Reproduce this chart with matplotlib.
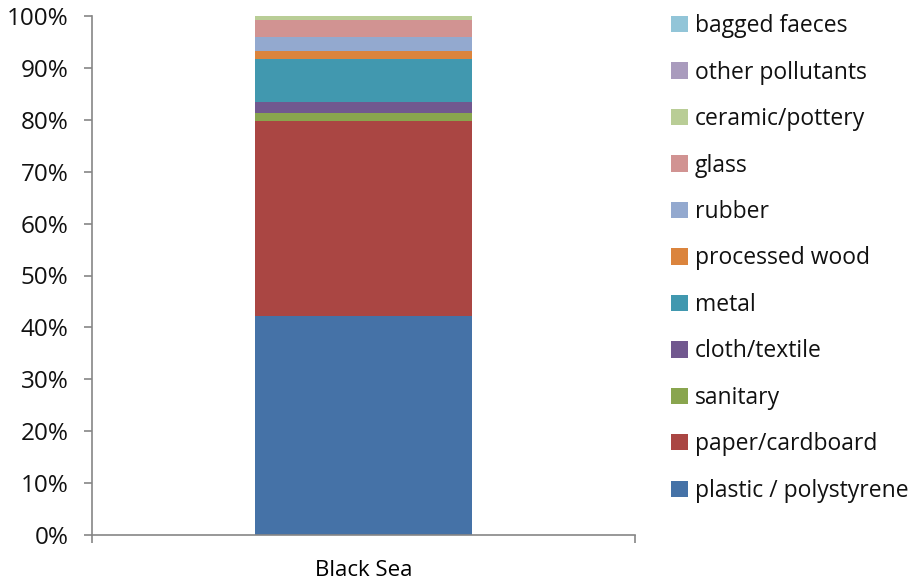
import matplotlib
matplotlib.use("Agg")
import matplotlib.pyplot as plt
from matplotlib.patches import Patch
from matplotlib.ticker import FuncFormatter

plt.rcParams['font.family'] = ['Open Sans', 'DejaVu Sans']

categories = ["Black Sea"]
series_names = ["plastic / polystyrene", "paper/cardboard", "sanitary", "cloth/textile",
                "metal", "processed wood", "rubber", "glass", "ceramic/pottery",
                "other pollutants", "bagged faeces"]
series_values = [42.2, 37.6, 1.6, 2.0, 8.3, 1.6, 2.7, 3.2, 0.8, 0.0, 0.0]
series_colors = ["#4572A7", "#AA4643", "#89A54E", "#71588F", "#4198AF", "#DB843D",
                 "#93A9CF", "#D19392", "#B9CD96", "#A99BBD", "#92C5D8"]
y_ticks = [0, 10, 20, 30, 40, 50, 60, 70, 80, 90, 100]

fig = plt.figure(figsize=(9.16, 5.83), dpi=100)
ax = fig.add_axes([92 / 916, 1 - 535 / 583, (635 - 92) / 916, (535 - 16) / 583])

bottom = 0.0
for name, val, col in zip(series_names, series_values, series_colors):
    ax.bar(0, val, width=0.4, bottom=bottom, color=col, label=name)
    bottom += val

ax.set_xlim(-0.5, 0.5)
ax.set_ylim(0, 100)
ax.set_yticks(y_ticks)
ax.yaxis.set_major_formatter(FuncFormatter(lambda v, p: f"{v:.0f}%"))
ax.set_xticks([-0.5, 0.5])
ax.set_xticklabels([])
ax.set_xticks([0], minor=True)
ax.set_xticklabels(categories, minor=True)
ax.tick_params(axis='x', which='minor', length=0, pad=18, labelsize=16)
ax.tick_params(axis='x', which='major', length=6, width=1.2, color="#868686")
ax.tick_params(axis='y', length=6, width=1.2, color="#868686", labelsize=17.5,
               pad=11, labelcolor="#111111")

for s in ("top", "right"):
    ax.spines[s].set_visible(False)
for s in ("left", "bottom"):
    ax.spines[s].set_color("#868686")
    ax.spines[s].set_linewidth(1.2)

handles = [Patch(facecolor=c, edgecolor='none') for c in series_colors][::-1]
labels = series_names[::-1]
leg = fig.legend(handles, labels, loc="upper left", bbox_to_anchor=(662 / 916, 1 - 5 / 583),
                 frameon=False, fontsize=16.5, handlelength=0.72, handleheight=0.72,
                 handletextpad=0.3, labelspacing=0.98, borderaxespad=0)
for t in leg.get_texts():
    t.set_color("#111111")

fig.savefig("out.png", dpi=100)
